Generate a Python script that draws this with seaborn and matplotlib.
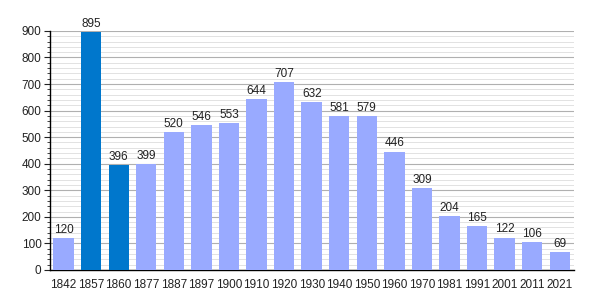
import matplotlib
matplotlib.use("Agg")
import matplotlib.pyplot as plt
import seaborn as sns
import pandas as pd
from matplotlib.ticker import MultipleLocator

years = ["1842", "1857", "1860", "1877", "1887", "1897", "1900", "1910", "1920", "1930",
         "1940", "1950", "1960", "1970", "1981", "1991", "2001", "2011", "2021"]
population = [120, 895, 396, 399, 520, 546, 553, 644, 707, 632,
              581, 579, 446, 309, 204, 165, 122, 106, 69]
highlight = ["1857", "1860"]

df = pd.DataFrame({"year": years, "pop": population})
light = "#99aaff"
dark = "#0077cc"
palette = {y: (dark if y in highlight else light) for y in years}

sns.set_style("white")
plt.rcParams['font.family'] = ['Liberation Sans', 'DejaVu Sans']
fig = plt.figure(figsize=(6, 3), dpi=100)
ax = fig.add_axes([0.083, 0.1, 0.873, 0.797])

sns.barplot(data=df, x="year", y="pop", hue="year", palette=palette, legend=False,
            width=0.74, ax=ax, saturation=1, zorder=3, linewidth=0, edgecolor="none")

ax.set_ylim(0, 900)
ax.set_xlim(-0.5, len(years) - 0.5)
ax.yaxis.set_major_locator(MultipleLocator(100))
ax.yaxis.set_minor_locator(MultipleLocator(20))
ax.grid(axis="y", which="major", color="#b0b0b0", linewidth=0.8, zorder=0)
ax.grid(axis="y", which="minor", color="#dddddd", linewidth=0.6, zorder=0)
ax.set_axisbelow(True)
ax.set_xlabel("")
ax.set_ylabel("")
for s in ["top", "right"]:
    ax.spines[s].set_visible(False)
ax.spines["left"].set_color("black")
ax.spines["bottom"].set_color("black")
ax.spines["left"].set_linewidth(1)
ax.spines["bottom"].set_linewidth(1)
ax.tick_params(axis="y", which="major", left=True, length=4, width=0.8, labelsize=8.5, pad=2, colors="#222222")
ax.tick_params(axis="y", which="minor", left=True, length=2, width=0.6)
ax.tick_params(axis="x", bottom=False, labelsize=8.5, pad=3, colors="#222222")

for i, v in enumerate(population):
    ax.text(i, v + 8, str(v), ha="center", va="bottom", fontsize=8.5, color="#222222")

fig.savefig("out.png", dpi=100)
